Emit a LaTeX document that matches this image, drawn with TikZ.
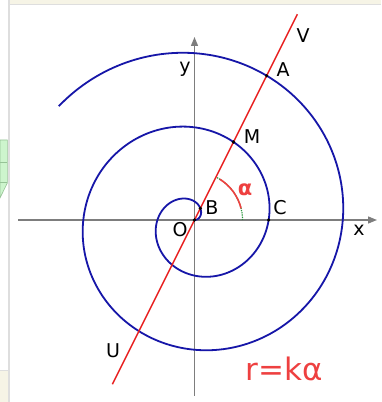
\documentclass[tikz,border=0pt]{standalone}
\usepackage{fontspec}
\setmainfont{DejaVu Sans}
\usetikzlibrary{calc,arrows.meta}
\definecolor{spiralblue}{RGB}{22,22,168}
\definecolor{linered}{RGB}{232,32,32}
\definecolor{axisgray}{RGB}{125,125,125}
\definecolor{penred}{RGB}{238,64,64}
\definecolor{arcgreen}{RGB}{40,150,60}
\definecolor{beige}{RGB}{246,244,230}
\definecolor{panelgreen}{RGB}{205,245,205}
\definecolor{paneledge}{RGB}{150,195,150}
\definecolor{framegray}{RGB}{222,222,222}
\tikzset{
  axisline/.style={draw=axisgray, line width=1.3pt, -{Triangle[length=9pt,width=7pt]}},
  spiralline/.style={draw=spiralblue, line width=1.8pt},
  redline/.style={draw=linered, line width=1.5pt},
  lab/.style={font=\fontsize{19}{19}\selectfont, text=black, inner sep=0pt},
  penlab/.style={text=penred, inner sep=0pt},
  pointdot/.style={fill=black, circle, inner sep=0pt, minimum size=3.6pt}
}
\begin{document}
\begin{tikzpicture}[x=1pt,y=1pt]
\useasboundingbox (0,0) rectangle (381,402);
\fill[white] (0,0) rectangle (381,402);
% screenshot surroundings
\fill[beige] (10,397.5) rectangle (381,402);
\draw[framegray, line width=1pt] (10,397.3) -- (381,397.3);
\fill[beige] (0,0) rectangle (8,31);
\draw[framegray, line width=1pt] (0,31) -- (8,31);
\draw[framegray, line width=1.5pt] (9,0) -- (9,402);
\filldraw[fill=panelgreen, draw=paneledge, line width=0.6pt] (0,262) -- (7.3,262) -- (7.3,219) -- (0,204) -- cycle;
\draw[paneledge, line width=0.6pt] (0,240) -- (7.3,240) (0,220) -- (7.3,220);
% points
\coordinate (O) at (194.5,182);
\coordinate (xs) at (18,182);
\coordinate (xe) at (377,182);
\coordinate (ys) at (194.5,6);
\coordinate (ye) at (194.5,365);
\coordinate (Uend) at ($(O)+(243.43:183.6)$);
\coordinate (Vend) at ($(O)+(63.43:230)$);
\coordinate (B) at ($(O)+(63.43:13.06)$);
\coordinate (M) at ($(O)+(63.43:87.2)$);
\coordinate (A) at ($(O)+(63.43:161.3)$);
\coordinate (C) at ($(O)+(0:74.14)$);
% axes
\draw[axisline] (xs) -- (xe);
\draw[axisline] (ys) -- (ye);
% angle arc
\draw[arcgreen, densely dotted, line width=1.2pt] ($(O)+(0:48)$) arc[start angle=0, end angle=63.43, radius=48];
\draw[penred, line width=1.6pt] ($(O)+(14:48)$) arc[start angle=14, end angle=58, radius=48];
% spiral r = k alpha
\begin{scope}[shift={(O)}]
\draw[spiralline] plot[domain=0:860, samples=500, smooth] ({0.205949*\x*cos(\x)}, {0.205949*\x*sin(\x)});
\end{scope}
% line UV
\draw[redline] (Uend) -- (Vend);
% dots
\foreach \p in {O,B,M,A,C} \node[pointdot] at (\p) {};
% labels
\node[lab] (lV) at (303,366) {V};
\node[lab] (lA) at (283,332) {A};
\node[lab] (ly) at (185,333) {y};
\node[lab] (lM) at (252,265) {M};
\node[lab] (lB) at (212,194) {B};
\node[lab] (lC) at (280,194) {C};
\node[lab] (lO) at (180,172) {O};
\node[lab] (lx) at (359,172) {x};
\node[lab] (lU) at (113,51) {U};
\node[penlab, font=\fontsize{21}{21}\selectfont\bfseries] (lalpha) at (245,212) {α};
\node[penlab, font=\fontsize{31}{31}\selectfont] (formula) at (284,33) {r=kα};
\end{tikzpicture}
\end{document}
